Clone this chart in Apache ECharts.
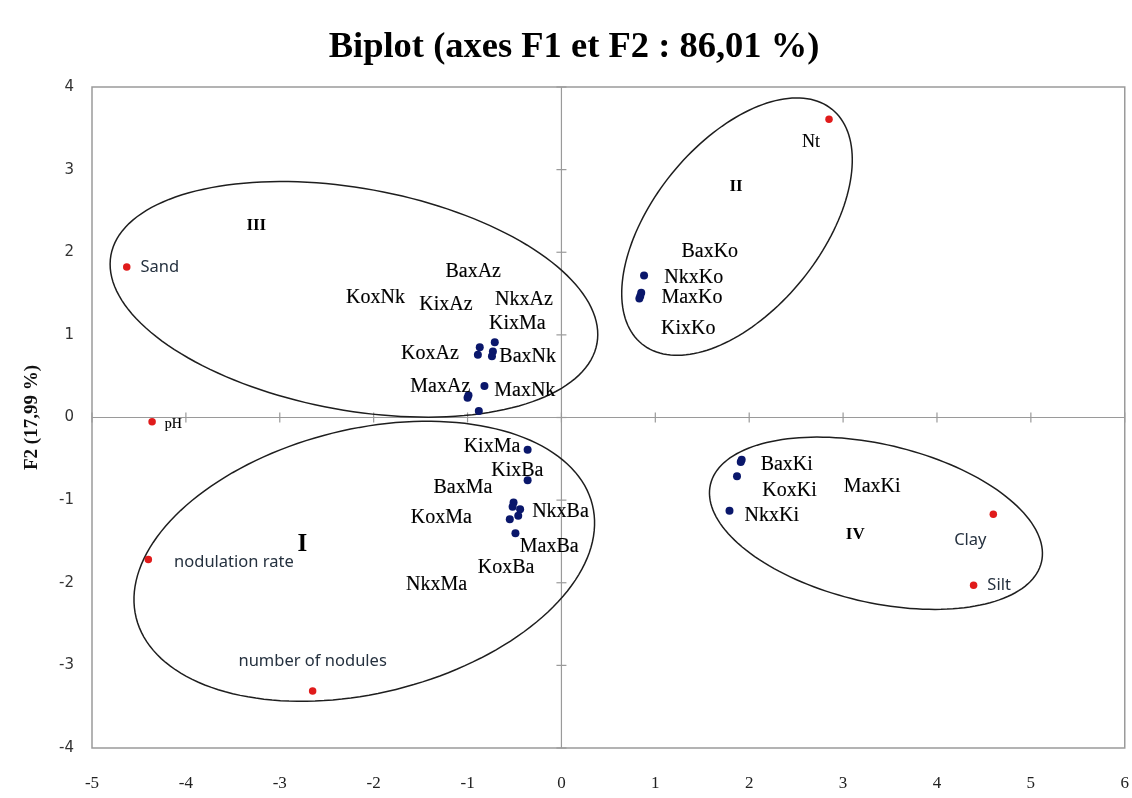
<!DOCTYPE html>
<html>
<head>
<meta charset="utf-8">
<script src="https://cdn.jsdelivr.net/npm/echarts@6/dist/echarts.min.js"></script>
<style>
  html, body { margin: 0; padding: 0; background: #fff; }
  #chart { width: 1132px; height: 798px; }
</style>
</head>
<body>
<div id="chart"></div>
<script>
// Axis ticks
const xTicks = [-5, -4, -3, -2, -1, 0, 1, 2, 3, 4, 5, 6];
const yTicks = [-4, -3, -2, -1, 0, 1, 2, 3, 4];

// Observations (crosses) : scores on F1 / F2
const obsF1 = [
  -0.71, -0.87, -0.89, -0.73, -0.74, -0.82, -0.99, -1.00, -0.88,
  -0.36, -0.36, -0.51, -0.52, -0.44, -0.46, -0.55, -0.49,
   0.88,  0.85,  0.84,  0.83,
   1.92,  1.91,  1.87,  1.79
];
const obsF2 = [
   0.91,  0.85,  0.76,  0.80,  0.74,  0.38,  0.27,  0.24,  0.08,
  -0.39, -0.76, -1.03, -1.08, -1.11, -1.19, -1.23, -1.40,
   1.72,  1.51,  1.47,  1.44,
  -0.51, -0.54, -0.71, -1.13
];

// Observation labels and where they sit on the F1 / F2 plane
const obsLabels = [
  'KoxNk', 'BaxAz', 'KixAz', 'NkxAz', 'KixMa', 'KoxAz', 'BaxNk', 'MaxAz', 'MaxNk',
  'KixMa', 'KixBa', 'BaxMa', 'KoxMa', 'NkxBa', 'MaxBa', 'KoxBa', 'NkxMa',
  'BaxKo', 'NkxKo', 'MaxKo', 'KixKo',
  'BaxKi', 'KoxKi', 'MaxKi', 'NkxKi'
];
const obsLabelF1 = [
  -1.98, -0.94, -1.23, -0.40, -0.47, -1.40, -0.36, -1.29, -0.39,
  -0.74, -0.47, -1.05, -1.28, -0.01, -0.13, -0.59, -1.33,
   1.58,  1.41,  1.39,  1.35,
   2.40,  2.43,  3.31,  2.24
];
const obsLabelF2 = [
   1.45,  1.76,  1.37,  1.43,  1.14,  0.77,  0.73,  0.37,  0.32,
  -0.35, -0.64, -0.85, -1.21, -1.14, -1.57, -1.82, -2.03,
   2.01,  1.69,  1.45,  1.07,
  -0.57, -0.89, -0.84, -1.19
];

// Variables
const varNames = ['Nt', 'Sand', 'pH', 'nodulation rate', 'number of nodules', 'Clay', 'Silt'];
const varF1 = [2.85, -4.63, -4.36, -4.40, -2.65, 4.60, 4.39];
const varF2 = [3.61, 1.82, -0.05, -1.72, -3.31, -1.17, -2.03];

// Group names
const groupNames = ['I', 'II', 'III', 'IV'];
const groupF1 = [-2.76, 1.86, -3.25, 3.13];
const groupF2 = [-1.54, 2.80, 2.32, -1.42];

// Group outlines: centre on the plane, semi-axes (px) and tilt (deg, screen)
const groupShapes = [
  { f1: -2.10, f2: -1.74, a: 235, b: 132, rot: -13.9 },
  { f1:  1.87, f2:  2.31, a: 151, b: 84,  rot: -51.0 },
  { f1: -2.21, f2:  1.43, a: 247, b: 111, rot: 10.3 },
  { f1:  3.35, f2: -1.28, a: 170, b: 79,  rot: 13.2 }
];

// Label placement of the variable names
const sansVar = { fontFamily: 'Noto Sans', fontSize: 16.5, color: '#25313f' };
const serifVar = { fontFamily: 'Liberation Serif', color: '#000', textBorderColor: '#000', textBorderWidth: 0.15 };
const varLabelStyle = {
  'Nt':                { position: 'inside', offset: [-18, 23], ...serifVar, fontSize: 18 },
  'Sand':              { position: 'right', distance: 10, ...sansVar },
  'pH':                { position: 'right', distance: 9, offset: [0, 3], ...serifVar, fontSize: 14 },
  'nodulation rate':   { position: 'right', distance: 22, offset: [0, 3], ...sansVar },
  'number of nodules': { position: 'top', distance: 17, ...sansVar },
  'Clay':              { position: 'inside', offset: [-23, 26], ...sansVar },
  'Silt':              { position: 'right', distance: 10, ...sansVar }
};

const chart = echarts.init(document.getElementById('chart'));

const obsPoints = obsF1.map((x, i) => [x, obsF2[i]]);
const obsLabelData = obsLabels.map((t, i) => ({ name: t, value: [obsLabelF1[i], obsLabelF2[i]] }));
const varData = varNames.map((n, i) => ({
  name: n,
  value: [varF1[i], varF2[i]],
  label: Object.assign({ show: true, formatter: '{b}' }, varLabelStyle[n])
}));
const groupData = groupNames.map((n, i) => ({
  name: n,
  value: [groupF1[i], groupF2[i]],
  label: { fontSize: n === 'I' ? 25 : 17 }
}));

chart.setOption({
  animation: false,
  backgroundColor: '#fff',
  graphic: [
    {
      type: 'text',
      x: 574, y: 48,
      style: {
        text: 'Biplot (axes F1 et F2 : 86,01 %)',
        font: 'bold 36.5px "Liberation Serif"',
        fill: '#000',
        textAlign: 'center',
        textVerticalAlign: 'middle'
      }
    }
  ],
  grid: {
    left: 92, right: 5, top: 87, bottom: 50,
    show: true,
    borderColor: '#9a9a9a',
    borderWidth: 1.5
  },
  xAxis: {
    type: 'value',
    min: xTicks[0], max: xTicks[xTicks.length - 1], interval: 1,
    axisLine: { show: false },
    axisTick: { show: false },
    splitLine: { show: false },
    axisLabel: { fontFamily: 'Liberation Serif', fontSize: 17, color: '#222', margin: 27 }
  },
  yAxis: {
    type: 'value',
    min: yTicks[0], max: yTicks[yTicks.length - 1], interval: 1,
    name: 'F2 (17,99 %)',
    nameLocation: 'middle',
    nameGap: 50,
    nameTextStyle: { fontFamily: 'Liberation Serif', fontWeight: 'bold', fontSize: 19, color: '#111' },
    axisLine: { show: false },
    axisTick: { show: false },
    splitLine: { show: false },
    axisLabel: { fontFamily: 'DejaVu Sans', fontSize: 15, color: '#333', margin: 18 }
  },
  series: [
    {
      // zero lines with crossing tick marks
      type: 'custom',
      silent: true,
      z: 1,
      data: [[0, 0]],
      renderItem: function (params, api) {
        const children = [];
        const ln = { stroke: '#9a9a9a', lineWidth: 1.2 };
        const l = api.coord([xTicks[0], 0]), r = api.coord([xTicks[xTicks.length - 1], 0]);
        const t = api.coord([0, yTicks[yTicks.length - 1]]), b = api.coord([0, yTicks[0]]);
        children.push({ type: 'line', shape: { x1: l[0], y1: l[1], x2: r[0], y2: r[1] }, style: ln });
        children.push({ type: 'line', shape: { x1: t[0], y1: t[1], x2: b[0], y2: b[1] }, style: ln });
        xTicks.forEach(v => {
          const p = api.coord([v, 0]);
          children.push({ type: 'line', shape: { x1: p[0], y1: p[1] - 5, x2: p[0], y2: p[1] + 5 }, style: ln });
        });
        yTicks.forEach(v => {
          const p = api.coord([0, v]);
          children.push({ type: 'line', shape: { x1: p[0] - 5, y1: p[1], x2: p[0] + 5, y2: p[1] }, style: ln });
        });
        return { type: 'group', children: children };
      }
    },
    {
      // group outlines
      type: 'custom',
      silent: true,
      z: 2,
      data: groupShapes.map(g => [g.f1, g.f2]),
      renderItem: function (params, api) {
        const g = groupShapes[params.dataIndex];
        const c = api.coord([g.f1, g.f2]);
        const th = g.rot * Math.PI / 180;
        const pts = [];
        for (let i = 0; i < 160; i++) {
          const t = i / 160 * Math.PI * 2;
          const u = g.a * Math.cos(t), v = g.b * Math.sin(t);
          pts.push([c[0] + u * Math.cos(th) - v * Math.sin(th), c[1] + u * Math.sin(th) + v * Math.cos(th)]);
        }
        return { type: 'polygon', shape: { points: pts }, style: { fill: 'none', stroke: '#1e1e1e', lineWidth: 1.5 } };
      }
    },
    {
      name: 'Observations',
      type: 'scatter',
      z: 4,
      symbolSize: 8,
      itemStyle: { color: '#0a176b', opacity: 1 },
      data: obsPoints
    },
    {
      name: 'Observation labels',
      type: 'scatter',
      z: 5,
      symbolSize: 0,
      silent: true,
      itemStyle: { opacity: 1 },
      label: {
        show: true,
        position: 'inside',
        formatter: '{b}',
        fontFamily: 'Liberation Serif',
        fontSize: 20,
        color: '#000',
        textBorderColor: '#000',
        textBorderWidth: 0.15
      },
      data: obsLabelData
    },
    {
      name: 'Variables',
      type: 'scatter',
      z: 4,
      symbolSize: 7.5,
      itemStyle: { color: '#e01b1b', opacity: 1 },
      data: varData
    },
    {
      name: 'Groups',
      type: 'scatter',
      z: 5,
      symbolSize: 0,
      silent: true,
      itemStyle: { opacity: 1 },
      label: {
        show: true,
        position: 'inside',
        formatter: '{b}',
        fontFamily: 'Liberation Serif',
        fontWeight: 'bold',
        color: '#000'
      },
      data: groupData
    }
  ]
});
</script>
</body>
</html>
